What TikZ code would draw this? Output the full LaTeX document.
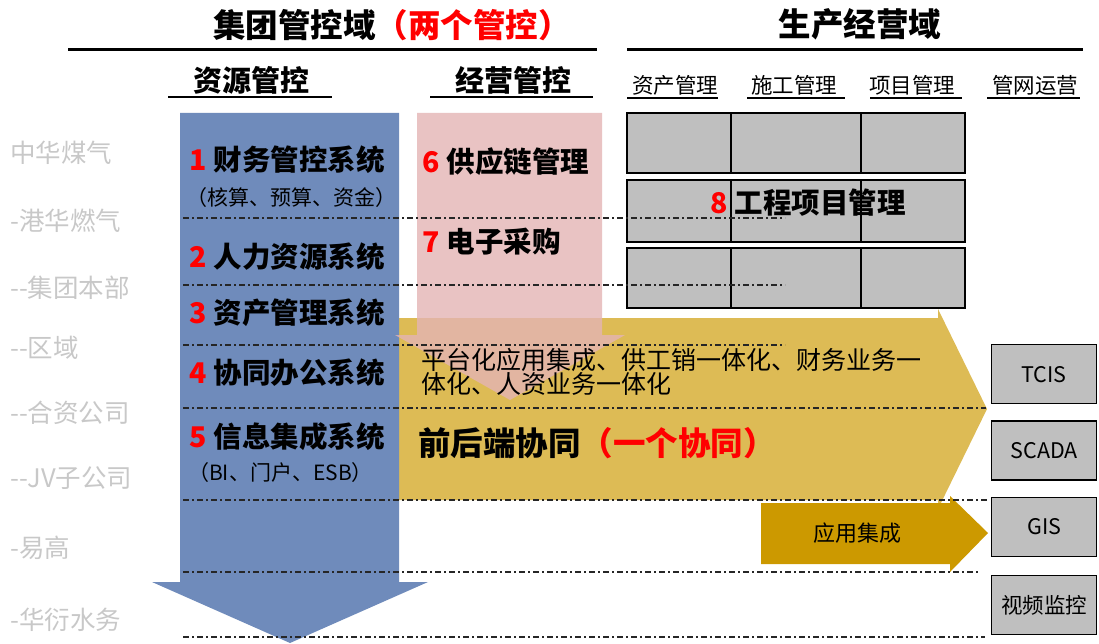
\documentclass[tikz,border=0pt]{standalone}
\usepackage{fontspec}
\setmainfont{Noto Sans CJK SC}
\usetikzlibrary{positioning}

\definecolor{bandblue}{RGB}{111,139,187}
\definecolor{bandpink}{RGB}{228,180,180}
\definecolor{bandyellow}{RGB}{221,187,85}
\definecolor{bandgold}{RGB}{204,153,0}
\definecolor{cellgrey}{RGB}{191,191,191}
\definecolor{orggrey}{RGB}{200,200,200}

\newcommand{\redno}[1]{\textcolor{red}{#1}\hspace{0.25em}}

\begin{document}
\begin{tikzpicture}[x=1pt, y=-1pt,
	grp/.style={font=\bfseries\fontsize{32.5}{32.5}\selectfont, inner sep=0},
	col/.style={font=\bfseries\fontsize{29}{29}\selectfont, inner sep=0},
	unit/.style={font=\fontsize{21.5}{21.5}\selectfont, inner sep=0},
	org/.style={font=\fontsize{25.5}{25.5}\selectfont, text=orggrey, anchor=west, inner sep=0},
	sys/.style={font=\bfseries\fontsize{28.5}{28.5}\selectfont, anchor=west, inner sep=0},
	memo/.style={font=\fontsize{21}{21}\selectfont, anchor=west, inner sep=0},
	cell/.style={draw=black, line width=1.3pt, fill=cellgrey},
	app/.style={draw=black, line width=1.3pt, fill=cellgrey, minimum width=105pt,
		minimum height=59pt, inner sep=0, font=\fontsize{21.5}{21.5}\selectfont},
	lane/.style={line width=1.6pt, black!85, dash pattern=on 6pt off 3pt on 2pt off 3pt}]
	\useasboundingbox (0,0) rectangle (1099,644);

	% Arrows {yellow, blue, pink, gold}
	\fill [bandyellow] (399,318) -- (938,318) -- (938,309) -- (987,409)
		-- (938,509) -- (938,500) -- (399,500) -- cycle;
	\fill [bandblue] (180,113) -- (399,113) -- (399,582) -- (428,582)
		-- (290,643) -- (152,582) -- (180,582) -- cycle;
	\fill [bandpink, opacity=.8] (417,113) -- (602,113) -- (602,335) -- (625,335)
		-- (510,400) -- (395,335) -- (417,335) -- cycle;
	\fill [bandgold] (761,503) -- (950,503) -- (950,496) -- (988,533)
		-- (950,572) -- (950,564) -- (761,564) -- cycle;

	% Grid
	\foreach \t/\b in {113/173, 180/242, 248/308} {
		\draw [cell] (627,\t) rectangle (965,\b);
		\draw [line width=1.3pt] (731,\t) -- (731,\b) (861,\t) -- (861,\b);
	}

	% Lanes
	\foreach \y/\e in {218/785, 285/785, 345/785, 408/986, 500/987, 572/980, 637/985}
		\draw [lane] (183,\y) -- (\e,\y);

	% Headings
	\node [grp] (grpA) at (392,25) {集团管控域\textcolor{red}{（两个管控）}};
	\node [grp] (grpB) at (860,24) {生产经营域};
	\draw [line width=3pt] (68,50) -- (597,50);
	\draw [line width=3pt] (627,50) -- (1083,50);

	\node [col] (res) at (251,80) {资源管控};
	\node [col] (biz) at (513,80) {经营管控};
	\draw [line width=1.5pt] (168,97) -- (332,97);
	\draw [line width=1.5pt] (430,97) -- (593,97);

	\node [unit] (assetM) at (675,85)  {资产管理};
	\node [unit] (buildM) at (794,85)  {施工管理};
	\node [unit] (projM)  at (912,85)  {项目管理};
	\node [unit] (pipeM)  at (1035,85) {管网运营};
	\foreach \a/\b in {627/718, 747/845, 870/962, 987/1080}
		\draw [line width=1.2pt] (\a,98) -- (\b,98);

	% Companies
	\foreach \y/\t [count=\i] in {153/中华煤气, 221/-港华燃气, 288/-{}-集团本部, 348/-{}-区域,
			413/-{}-合资公司, 478/-{}-JV子公司, 548/-易高, 620/-华衍水务}
		\node [org] (org\i) at (10,\y) {\t};

	% Systems {1..8}
	\node [sys]  (s1)  at (189,160) {\redno{1}财务管控系统};
	\node [memo] (s1n) at (186,198) {（核算、预算、资金）};
	\node [sys]  (s2)  at (189,257) {\redno{2}人力资源系统};
	\node [sys]  (s3)  at (189,313) {\redno{3}资产管理系统};
	\node [sys]  (s4)  at (189,373) {\redno{4}协同办公系统};
	\node [sys]  (s5)  at (189,437) {\redno{5}信息集成系统};
	\node [memo] (s5n) at (188,473) {（BI、门户、ESB）};
	\node [sys]  (s6)  at (422,162) {\redno{6}供应链管理};
	\node [sys]  (s7)  at (422,242) {\redno{7}电子采购};
	\node [sys]  (s8)  at (710,203) {\redno{8}工程项目管理};

	\node [anchor=west, inner sep=0, align=left, font=\fontsize{25}{22}\selectfont]
		(plat) at (421,372) {平台化应用集成、供工销一体化、财务业务一\\体化、人资业务一体化};
	\node [sys, font=\bfseries\fontsize{32.5}{32.5}\selectfont]
		(cowork) at (418,443) {前后端协同\textcolor{red}{（一个协同）}};
	\node [font=\fontsize{22}{22}\selectfont, inner sep=0] (intg) at (857,533) {应用集成};

	% Apps
	\node [app, anchor=north west] (tcis) at (991,344) {TCIS};
	\node [app, below=16pt of tcis]  (scada) {SCADA};
	\node [app, below=16pt of scada] (gis)   {GIS};
	\node [app, below=18pt of gis]   (cctv)  {视频监控};
\end{tikzpicture}
\end{document}
